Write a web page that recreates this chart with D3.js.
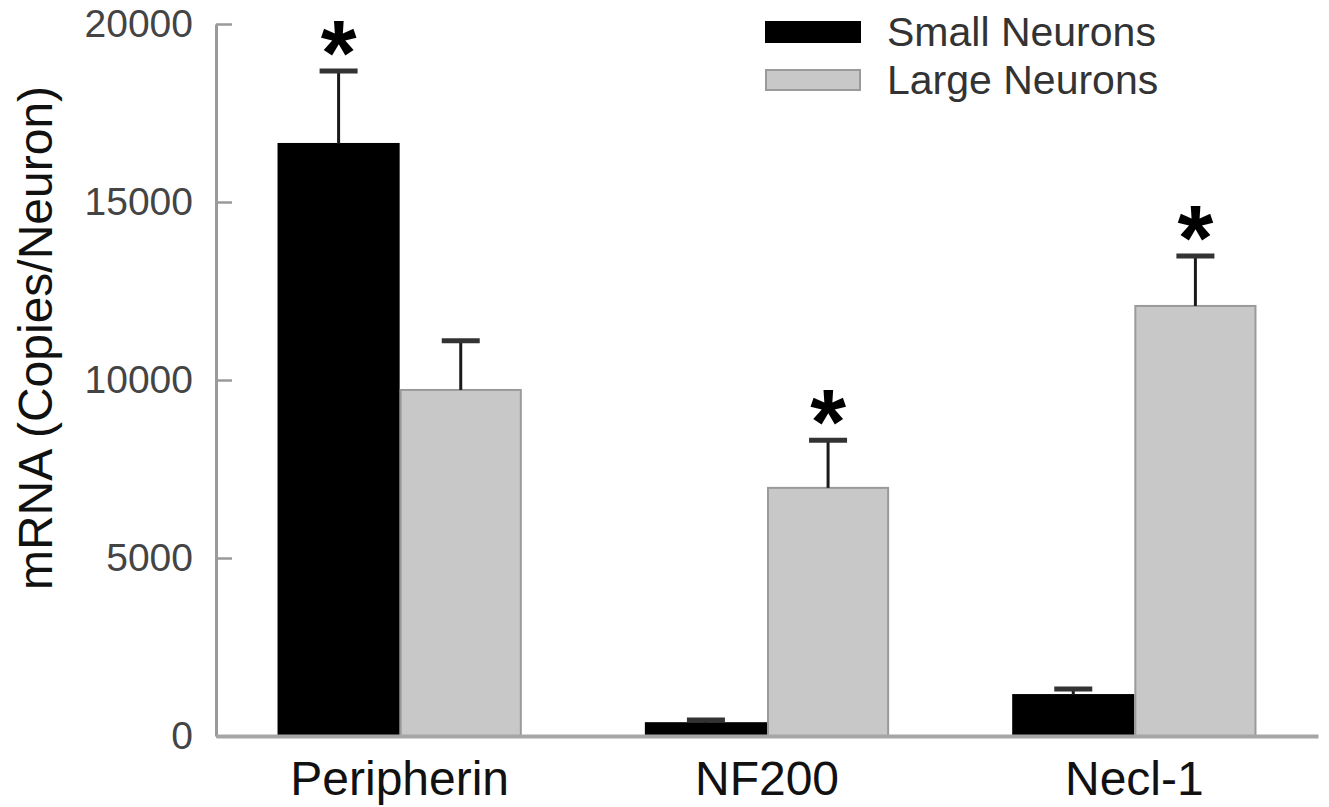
<!DOCTYPE html>
<html>
<head>
<meta http-equiv='Content-Type' content='text/html;charset=utf-8'/>
<title>mRNA copies per neuron</title>
<script src='https://d3js.org/d3.v7.min.js'></script>
<style>
  html, body { margin: 0; padding: 0; background: #fff; }
  svg { display: block; font-family: 'Liberation Sans', Arial, sans-serif; }
</style>
</head>
<body>
<script>
'use strict';
// values
const categories = ['Peripherin', 'NF200', 'Necl-1'];
const seriesNames = ['Small Neurons', 'Large Neurons'];
const smallMean = [16630, 360, 1150];
const smallSem  = [2050, 90, 170];
const largeMean = [9720, 6970, 12080];
const largeSem  = [1380, 1340, 1400];
const smallSig  = [true, false, false];
const largeSig  = [false, true, true];
const yTicks = [0, 5000, 10000, 15000, 20000];

const width = 1329, height = 807;
const margin = {top: 24, right: 11, bottom: 71, left: 216};
const fills = ['#000000', '#c8c8c8'];
const strokes = ['#000000', '#9a9a9a'];

const svg = d3.select('body').append('svg')
    .attr('width', width)
    .attr('height', height);

svg.append('rect')
    .attr('width', '100%')
    .attr('height', '100%')
    .attr('fill', '#ffffff');

const y = d3.scaleLinear()
    .domain([0, 20000])
    .range([height - margin.bottom, margin.top]);

const x0 = d3.scaleBand()
    .domain(categories)
    .range([margin.left, width - margin.right])
    .paddingInner(0.335)
    .paddingOuter(0.1675);

const x1 = d3.scaleBand()
    .domain(seriesNames)
    .range([0, x0.bandwidth()]);

// build rows for the bars
const rows = [];
categories.forEach(function(c, i) {
    rows.push({cat: c, s: 0, mean: smallMean[i], sem: smallSem[i], sig: smallSig[i]});
    rows.push({cat: c, s: 1, mean: largeMean[i], sem: largeSem[i], sig: largeSig[i]});
});

// bars
svg.append('g').selectAll('rect')
    .data(rows)
  .enter().append('rect')
    .attr('x', function(d) { return x0(d.cat) + x1(seriesNames[d.s]) + 1; })
    .attr('y', function(d) { return y(d.mean); })
    .attr('width', x1.bandwidth() - 2)
    .attr('height', function(d) { return y(0) - y(d.mean); })
    .attr('fill', function(d) { return fills[d.s]; })
    .attr('stroke', function(d) { return strokes[d.s]; })
    .attr('stroke-width', 2);

// error bars (upper only)
const capW = 38;
const err = svg.append('g').selectAll('g')
    .data(rows)
  .enter().append('g')
    .attr('transform', function(d) {
        return 'translate(' + (x0(d.cat) + x1(seriesNames[d.s]) + x1.bandwidth() / 2) + ',0)';
    });

err.append('line')
    .attr('x1', 0).attr('x2', 0)
    .attr('y1', function(d) { return y(d.mean); })
    .attr('y2', function(d) { return y(d.mean + d.sem); })
    .attr('stroke', '#1a1a1a')
    .attr('stroke-width', 3);

err.append('line')
    .attr('x1', -capW / 2).attr('x2', capW / 2)
    .attr('y1', function(d) { return y(d.mean + d.sem); })
    .attr('y2', function(d) { return y(d.mean + d.sem); })
    .attr('stroke', '#333333')
    .attr('stroke-width', 5);

// significance stars
err.filter(function(d) { return d.sig; })
  .append('text')
    .attr('x', 0)
    .attr('y', function(d) { return y(d.mean + d.sem) + 14; })
    .attr('text-anchor', 'middle')
    .attr('font-size', 92)
    .attr('font-weight', 'bold')
    .attr('fill', '#000')
    .text('*');

// y axis
const yAxis = svg.append('g')
    .attr('transform', 'translate(' + margin.left + ',0)')
    .call(d3.axisLeft(y).tickValues(yTicks).tickFormat(d3.format('d'))
        .tickSizeInner(-16).tickSizeOuter(0).tickPadding(23));

yAxis.select('.domain').attr('stroke', '#9a9a9a').attr('stroke-width', 3);
yAxis.selectAll('.tick line').attr('stroke', '#9a9a9a').attr('stroke-width', 2.5);
yAxis.selectAll('.tick text')
    .attr('font-size', 39)
    .attr('font-family', "'Liberation Sans', Arial, sans-serif")
    .attr('fill', '#444');

// x axis
const xAxis = svg.append('g')
    .attr('transform', 'translate(0,' + y(0) + ')')
    .call(d3.axisBottom(x0).tickSize(0).tickSizeOuter(0));

xAxis.select('.domain').attr('stroke', '#a6a6a6').attr('stroke-width', 4);
xAxis.selectAll('.tick text')
    .attr('y', 59)
    .attr('dy', 0)
    .attr('font-size', 48)
    .attr('font-family', "'Liberation Sans', Arial, sans-serif")
    .attr('fill', '#111');

// y axis title
svg.append('text')
    .attr('transform', 'translate(52,' + 338 + ') rotate(-90)')
    .attr('text-anchor', 'middle')
    .attr('font-size', 48)
    .attr('fill', '#111')
    .text('mRNA (Copies/Neuron)');

// legend
const legend = svg.append('g')
    .attr('transform', 'translate(765,22)');

const li = legend.selectAll('g')
    .data(seriesNames)
  .enter().append('g')
    .attr('transform', function(d, i) { return 'translate(0,' + (i * 48) + ')'; });

li.append('rect')
    .attr('x', 1).attr('y', 0)
    .attr('width', 94).attr('height', 20)
    .attr('fill', function(d, i) { return fills[i]; })
    .attr('stroke', function(d, i) { return strokes[i]; })
    .attr('stroke-width', 2);

li.append('text')
    .attr('x', 122)
    .attr('y', 24)
    .attr('font-size', 41)
    .attr('fill', '#333')
    .text(function(d) { return d; });
</script>
</body>
</html>
